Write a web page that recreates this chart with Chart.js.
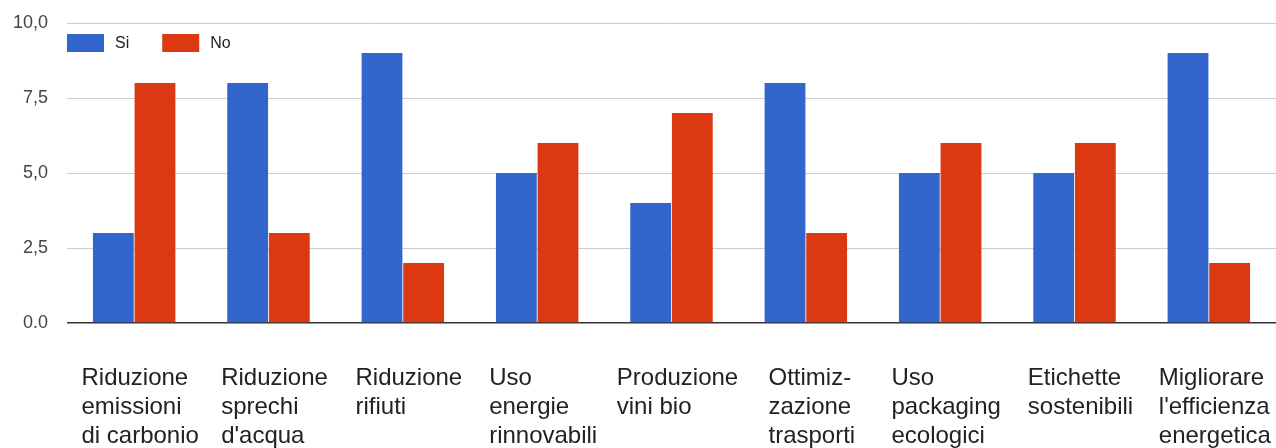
<!DOCTYPE html>
<html>
<head>
<meta charset="utf-8">
<script src="https://cdn.jsdelivr.net/npm/chart.js@4/dist/chart.umd.min.js"></script>
<style>
  html, body { margin: 0; padding: 0; background: #fff; }
  #wrap { width: 1276px; height: 448px; position: relative; }
</style>
</head>
<body>
<div id="wrap"><canvas id="c" width="1276" height="448"></canvas></div>
<script>
// Categories (each one split into the lines shown under the axis)
const categories = [
  ["Riduzione", "emissioni", "di carbonio"],
  ["Riduzione", "sprechi", "d'acqua"],
  ["Riduzione", "rifiuti"],
  ["Uso", "energie", "rinnovabili"],
  ["Produzione", "vini bio"],
  ["Ottimiz-", "zazione", "trasporti"],
  ["Uso", "packaging", "ecologici"],
  ["Etichette", "sostenibili"],
  ["Migliorare", "l'efficienza", "energetica"]
];
const seriesNames = ["Si", "No"];
const siValues = [3, 8, 9, 5, 4, 8, 5, 5, 9];
const noValues = [8, 3, 2, 6, 7, 3, 6, 6, 2];
const yTickValues = [0, 2.5, 5, 7.5, 10];
const yTickLabels = ["0.0", "2,5", "5,0", "7,5", "10,0"];

const FONT = "'Liberation Sans', Arial, sans-serif";
const COLORS = ["#3366cc", "#dc3912"];

// Legend drawn inside the plot area, top-left
const insideLegend = {
  id: 'insideLegend',
  afterDraw(chart) {
    const ctx = chart.ctx;
    const area = chart.chartArea;
    ctx.save();
    ctx.font = "16px " + FONT;
    ctx.textBaseline = 'middle';
    let x = area.left;
    const y = area.top + 11;
    chart.data.datasets.forEach((ds) => {
      ctx.fillStyle = ds.backgroundColor;
      ctx.fillRect(x, y, 37, 18);
      ctx.fillStyle = '#222';
      ctx.fillText(ds.label, x + 48, y + 10);
      x += 48 + ctx.measureText(ds.label).width + 33;
    });
    ctx.restore();
  }
};

// Multi-line category labels, lines left-aligned within a centred block
const categoryLabels = {
  id: 'categoryLabels',
  afterDraw(chart) {
    const ctx = chart.ctx;
    const xs = chart.scales.x;
    ctx.save();
    ctx.font = "24px " + FONT;
    ctx.fillStyle = '#222';
    ctx.textAlign = 'left';
    ctx.textBaseline = 'top';
    categories.forEach((lines, i) => {
      const cx = xs.getPixelForTick(i);
      const w = Math.max(...lines.map(l => ctx.measureText(l).width));
      const left = cx - w / 2 + 6;
      lines.forEach((line, j) => {
        ctx.fillText(line, left, 366 + j * 29);
      });
    });
    ctx.restore();
  }
};

new Chart(document.getElementById('c'), {
  type: 'bar',
  data: {
    labels: categories.map(l => l.join(' ')),
    datasets: [
      { label: seriesNames[0], data: siValues, backgroundColor: COLORS[0] },
      { label: seriesNames[1], data: noValues, backgroundColor: COLORS[1] }
    ]
  },
  options: {
    responsive: false,
    animation: false,
    layout: { padding: { top: 23, right: 0, left: 0, bottom: 0 } },
    datasets: {
      bar: { categoryPercentage: 0.62, barPercentage: 0.98, borderWidth: 0 }
    },
    plugins: {
      legend: { display: false },
      tooltip: { enabled: false },
      title: { display: false }
    },
    scales: {
      x: {
        grid: { display: false },
        border: { display: false },
        ticks: { display: false },
        afterFit(scale) { scale.height = 125; }
      },
      y: {
        min: 0,
        max: 10,
        afterBuildTicks(scale) {
          scale.ticks = yTickValues.map(v => ({ value: v }));
        },
        afterFit(scale) { scale.width = 67; },
        border: { display: false },
        grid: {
          drawTicks: true,
          tickLength: 19,
          tickColor: 'rgba(0,0,0,0)',
          color: (c) => c.tick && c.tick.value === 0 ? '#333333' : '#cccccc',
          lineWidth: (c) => c.tick && c.tick.value === 0 ? 1.5 : 1
        },
        ticks: {
          padding: 0,
          color: '#444',
          font: { family: FONT, size: 18 },
          callback: (v) => yTickLabels[yTickValues.indexOf(v)]
        }
      }
    }
  },
  plugins: [insideLegend, categoryLabels]
});
</script>
</body>
</html>
